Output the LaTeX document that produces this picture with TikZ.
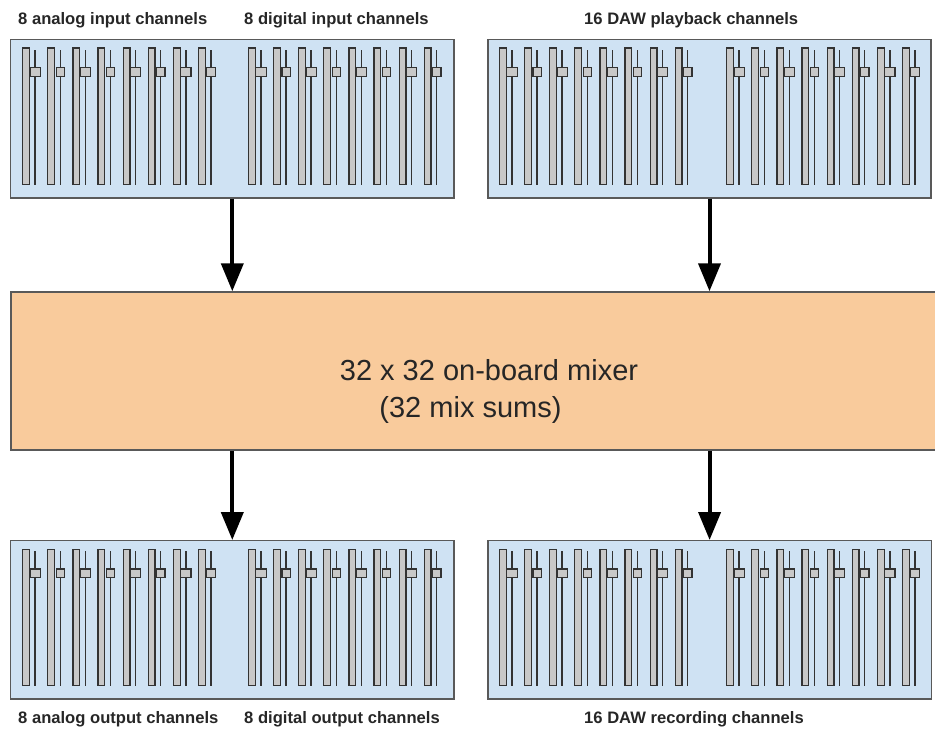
\documentclass[tikz,border=0pt]{standalone}
\usepackage{fontspec}
\setmainfont{Liberation Sans}
\usetikzlibrary{arrows.meta,positioning}
\definecolor{PanelBlue}{HTML}{CFE2F3}
\definecolor{PanelLine}{HTML}{595959}
\definecolor{MixFill}{HTML}{F9CB9C}
\definecolor{CapFill}{HTML}{C8C8C8}
\definecolor{CapLine}{HTML}{333333}
\tikzset{
  panel/.style={rectangle,draw=PanelLine,fill=PanelBlue,line width=1.4pt,minimum width=443.3pt,minimum height=158.4pt,inner sep=0pt},
  mixbox/.style={rectangle,draw=PanelLine,fill=MixFill,line width=1.5pt,minimum width=926pt,minimum height=158pt,inner sep=0pt},
  track/.style={draw=CapLine,fill=CapFill,line width=1.2pt},
  rail/.style={draw=CapLine,line width=1.5pt},
  knob/.style={draw=CapLine,fill=CapFill,line width=1.2pt},
  flow/.style={draw=black,line width=4pt,-{Triangle[length=28pt,width=22pt]}},
  lbl/.style={font=\fontsize{16.6}{18}\selectfont\bfseries,text=black!85,anchor=base west,inner sep=0pt},
  mixtxt/.style={font=\fontsize{29}{33}\selectfont,text=black!85,anchor=base,inner sep=0pt}
}
% eight faders: #1 = left x of first track, #2 = panel top
\newcommand{\fadergroup}[2]{%
  \foreach \i in {0,...,7}{
    \pgfmathsetmacro{\fx}{#1+25.1*\i}
    \pgfmathsetmacro{\kw}{ifthenelse(mod(\i,2)==0,5.2,4.2)}
    \draw[track] (\fx,#2+8.4) rectangle ++(6.8,136.3);
    \draw[rail] (\fx+12.5,#2+10.7) -- (\fx+12.5,#2+145.7);
    \draw[knob] (\fx+12.5-\kw,#2+28.2) rectangle (\fx+12.5+\kw,#2+36.9);
  }}

\begin{document}
\begin{tikzpicture}[x=1pt,y=-1pt]
\useasboundingbox (0,0) rectangle (935,729);
% -inputs-
\node[panel] (inA) at (232.3,118.7) {};
\node[panel] (inB) at (709.5,118.7) {};
\fadergroup{22.7}{39.5}
\fadergroup{248.5}{39.5}
\fadergroup{499.5}{39.5}
\fadergroup{726.7}{39.5}
\node[lbl] (lblAin) at (18,24) {8 analog input channels};
\node[lbl] (lblDin) at (244,24) {8 digital input channels};
\node[lbl] (lblPlay) at (584,24) {16 DAW playback channels};
% -mixer-
\node[mixbox] (mix) at (474,371) {};
\node[mixtxt] (mixtitle) at (489,380) {32 x 32 on-board mixer};
\node[mixtxt] (mixsub) at (470.5,417) {(32 mix sums)};
% -outputs-
\node[panel] (outA) at (232.3,619.9) {};
\node[panel] (outB) at (709.6,619.9) {};
\fadergroup{22.7}{540.7}
\fadergroup{248.5}{540.7}
\fadergroup{499.5}{540.7}
\fadergroup{726.7}{540.7}
\node[lbl] (lblAout) at (18,723) {8 analog output channels};
\node[lbl] (lblDout) at (244,723) {8 digital output channels};
\node[lbl] (lblRec) at (584,723) {16 DAW recording channels};
% -signal flow-
\draw[flow] (inA.south) -- (inA.south |- mix.north);
\draw[flow] (inB.south) -- (inB.south |- mix.north);
\draw[flow] (mix.south -| outA.north) -- (outA.north);
\draw[flow] (mix.south -| outB.north) -- (outB.north);
\end{tikzpicture}
\end{document}
